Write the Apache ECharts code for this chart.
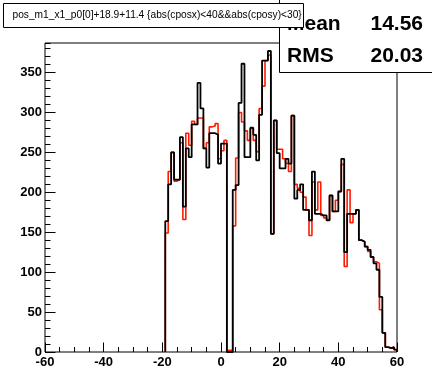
<!DOCTYPE html>
<html>
<head>
<meta charset="utf-8">
<script src="https://cdn.jsdelivr.net/npm/echarts@6/dist/echarts.min.js"></script>
<style>
  html, body { margin: 0; padding: 0; background: #fff; }
  #chart { width: 432px; height: 371px; }
</style>
</head>
<body>
<div id="chart"></div>
<script>
// Histogram binning: unit-width bins, first bin starts at -19
const firstBinLow = -19;
const binWidth = 1;

// Counts per bin, from bin [-19,-18) up to bin [59,60)
const blackCounts = [
  164, 210, 250, 216, 216, 269, 182, 255, 244, 285,
  285, 337, 305, 255, 231, 274, 274, 272, 236, 261,
  261, 0, 0, 203, 209, 312, 361, 244, 244, 281,
  272, 240, 297, 365, 365, 377, 148, 290, 249, 230,
  230, 242, 236, 296, 192, 203, 210, 178, 178, 165,
  226, 173, 173, 171, 171, 165, 196, 176, 176, 201,
  242, 125, 173, 173, 173, 178, 140, 138, 132, 128,
  119, 111, 103, 69, 24, 6, 5, 6, 3
];
const redCounts = [
  149, 226, 250, 214, 216, 262, 166, 274, 259, 289,
  285, 293, 293, 255, 262, 282, 283, 286, 242, 252,
  265, 2, 2, 158, 243, 300, 288, 277, 265, 280,
  265, 251, 305, 333, 365, 372, 148, 290, 254, 254,
  242, 236, 226, 296, 210, 205, 200, 194, 178, 146,
  213, 178, 213, 171, 168, 165, 196, 176, 190, 201,
  235, 107, 203, 162, 173, 178, 140, 138, 132, 126,
  119, 113, 111, 53, 24, 6, 5, 6, 3
];

// Axis settings
const xMin = -60, xMax = 60, xMajor = 20, xMinor = 5;
const yMin = 0, yMax = 387, yMajor = 50, yMinor = 10;

const titleText = 'pos_m1_x1_p0[0]+18.9+11.4 {abs(cposx)<40&&abs(cposy)<30}';
const statNames = ['Mean', 'RMS'];
const statValues = ['14.56', '20.03'];

// Outline of a histogram as step points: up from zero at the first edge,
// along every bin top, and back down to zero after the last bin.
function outline(counts) {
  const pts = [[firstBinLow, 0]];
  counts.forEach((c, i) => pts.push([firstBinLow + i * binWidth, c]));
  pts.push([firstBinLow + counts.length * binWidth, 0]);
  return pts;
}

const FONT = "'Liberation Sans', Arial, Helvetica, sans-serif";
const chart = echarts.init(document.getElementById('chart'), null, { renderer: 'canvas' });

const grid = { left: 45, top: 43, width: 352, height: 309, show: true,
  borderColor: '#000', borderWidth: 1, backgroundColor: 'transparent' };

const noLine = { show: false, onZero: false };

chart.setOption({
  animation: false,
  backgroundColor: '#fff',
  grid: grid,
  xAxis: [
    { type: 'value', min: xMin, max: xMax, interval: xMajor, position: 'bottom',
      axisLine: noLine, splitLine: { show: false },
      axisTick: { show: true, inside: true, length: 9.5, lineStyle: { color: '#000', width: 1 } },
      axisLabel: { color: '#000', fontFamily: FONT, fontSize: 13, fontWeight: 'bold', margin: 4 } },
    { type: 'value', min: xMin, max: xMax, interval: xMinor, position: 'bottom',
      axisLine: noLine, splitLine: { show: false },
      axisTick: { show: true, inside: true, length: 5, lineStyle: { color: '#000', width: 1 } },
      axisLabel: { show: false } }
  ],
  yAxis: [
    { type: 'value', min: yMin, max: yMax, interval: yMajor, position: 'left',
      axisLine: noLine, splitLine: { show: false },
      axisTick: { show: true, inside: true, length: 10.5, lineStyle: { color: '#000', width: 1 } },
      axisLabel: { color: '#000', fontFamily: FONT, fontSize: 13, fontWeight: 'bold', margin: 3,
        showMaxLabel: false,
        formatter: v => (v % yMajor === 0 ? String(v) : '') } },
    { type: 'value', min: yMin, max: yMax, interval: yMinor, position: 'left',
      axisLine: noLine, splitLine: { show: false },
      axisTick: { show: true, inside: true, length: 5.5, lineStyle: { color: '#000', width: 1 } },
      axisLabel: { show: false } }
  ],
  series: [
    { type: 'line', step: 'end', xAxisIndex: 0, yAxisIndex: 0, data: outline(redCounts),
      showSymbol: false, symbol: 'none', lineStyle: { color: '#ff1a00', width: 1.6 }, z: 2 },
    { type: 'line', step: 'end', xAxisIndex: 0, yAxisIndex: 0, data: outline(blackCounts),
      showSymbol: false, symbol: 'none', lineStyle: { color: '#000', width: 1.8 }, z: 3 }
  ],
  graphic: [
    // statistics box
    { type: 'rect', z: 100, shape: { x: 279.5, y: -2, width: 160, height: 74.5 },
      style: { fill: '#fff', stroke: '#000', lineWidth: 1 } },
    { type: 'text', z: 101, x: 287, y: 24,
      style: { text: statNames[0], font: 'bold 21px ' + FONT, fill: '#000', textVerticalAlign: 'middle' } },
    { type: 'text', z: 101, x: 423, y: 24,
      style: { text: statValues[0], font: 'bold 21px ' + FONT, fill: '#000', textAlign: 'right', textVerticalAlign: 'middle' } },
    { type: 'text', z: 101, x: 287, y: 56,
      style: { text: statNames[1], font: 'bold 21px ' + FONT, fill: '#000', textVerticalAlign: 'middle' } },
    { type: 'text', z: 101, x: 423, y: 56,
      style: { text: statValues[1], font: 'bold 21px ' + FONT, fill: '#000', textAlign: 'right', textVerticalAlign: 'middle' } },
    // title box
    { type: 'rect', z: 110, shape: { x: 3.5, y: 3.5, width: 300, height: 24 },
      style: { fill: '#fff', stroke: '#000', lineWidth: 1 } },
    { type: 'text', z: 111, x: 12.5, y: 15.5,
      style: { text: titleText, font: '10.2px ' + FONT, fill: '#000', textVerticalAlign: 'middle' } }
  ]
});
</script>
</body>
</html>
